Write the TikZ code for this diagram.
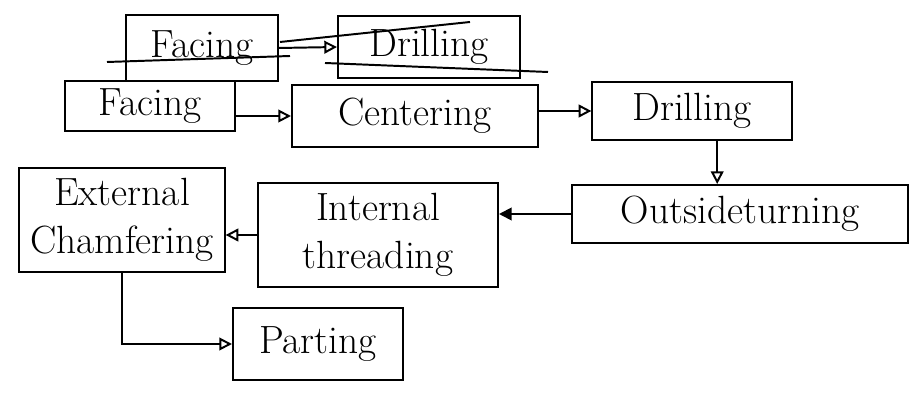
\documentclass[tikz,border=0pt]{standalone}
\usetikzlibrary{arrows.meta}
\begin{document}
\begin{tikzpicture}[x=0.025cm,y=-0.025cm,line width=1.4pt,
        stepbox/.style={draw,rectangle,inner sep=0pt,align=center,font=\fontsize{28}{34}\selectfont},
        flow/.style={-{Triangle[open,length=9pt,width=9pt]}},
        flowfill/.style={-{Triangle[length=9pt,width=9pt]}}]
        \useasboundingbox (0,0) rectangle (918,398);
        \node [stepbox,minimum width=3.78cm,minimum height=1.65cm] (oldfacing) at (202,48) {Facing};
        \node [stepbox,minimum width=4.55cm,minimum height=1.55cm] (olddrilling) at (429,47) {Drilling};
        \node [stepbox,minimum width=4.25cm,minimum height=1.25cm] (facing) at (150,106) {Facing};
        \node [stepbox,minimum width=6.15cm,minimum height=1.55cm] (centering) at (415,116) {Centering};
        \node [stepbox,minimum width=4.98cm,minimum height=1.45cm] (drilling) at (692,111) {Drilling};
        \node [stepbox,minimum width=8.38cm,minimum height=1.45cm] (outside) at (740,214) {Outsideturning};
        \node [stepbox,minimum width=6.0cm,minimum height=2.6cm] (internal) at (378,235) {Internal\\threading};
        \node [stepbox,minimum width=5.13cm,minimum height=2.6cm] (external) at (122,220) {External\\Chamfering};
        \node [stepbox,minimum width=4.25cm,minimum height=1.8cm] (parting) at (318,344) {Parting};
        \draw [flow] (oldfacing.east) -- (olddrilling.west);
        \draw (107,62) -- (290,56);
        \draw (280,42) -- (470,22);
        \draw (325,63) -- (548,72);
        \draw [flow] (facing.east |- centering.west) -- (centering.west);
        \draw [flow] (centering.east |- drilling.west) -- (drilling.west);
        \draw [flow] ([xshift=0.63cm]drilling.south) -- ([xshift=0.63cm]drilling.south |- outside.north);
        \draw [flowfill] (outside.west) -- (outside.west -| internal.east);
        \draw [flow] (internal.west) -- (internal.west -| external.east);
        \draw [flow] (external.south) |- (parting.west);
\end{tikzpicture}
\end{document}
